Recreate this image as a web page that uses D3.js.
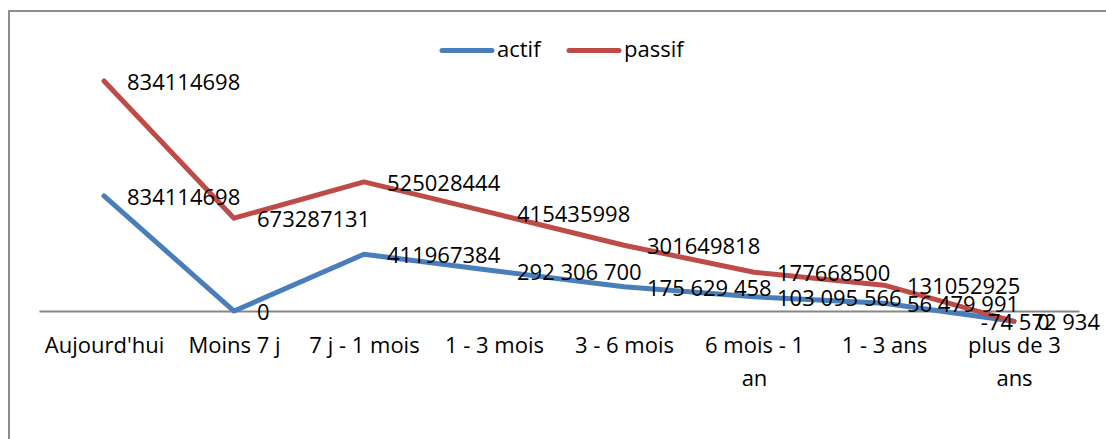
<!DOCTYPE html>
<html>
<head>
<meta charset="utf-8">
<script src="https://cdn.jsdelivr.net/npm/d3@7"></script>
<style>
  body { margin: 0; background: #fff; }
  svg { display: block; font-family: "Open Sans", "Noto Sans", sans-serif; }
</style>
</head>
<body>
<div id="chart"></div>
<script>
// categories and values (passif is drawn stacked on top of actif)
const categories = ["Aujourd'hui", "Moins 7 j", "7 j - 1 mois", "1 - 3 mois", "3 - 6 mois", "6 mois - 1 an", "1 - 3 ans", "plus de 3 ans"];
const actif = [834114698, 0, 411967384, 292306700, 175629458, 103095566, 56479991, -74572934];
const passif = [834114698, 673287131, 525028444, 415435998, 301649818, 177668500, 131052925, 0];
const actifLabels = ["834114698", "0", "411967384", "292 306 700", "175 629 458", "103 095 566", "56 479 991", "-74 572 934"];
const passifLabels = ["834114698", "673287131", "525028444", "415435998", "301649818", "177668500", "131052925", "0"];

const width = 1106, height = 439;
const blue = "#4A7EBB", red = "#BE4B48";

const svg = d3.select("#chart").append("svg")
    .attr("width", width)
    .attr("height", height);

// chart frame
svg.append("path")
    .attr("d", `M9,${height}V11H${width}`)
    .attr("fill", "none")
    .attr("stroke", "#8c8c8c")
    .attr("stroke-width", 2);

const x = d3.scalePoint()
    .domain(categories)
    .range([39, 1079])
    .padding(0.5);

const y = d3.scaleLinear()
    .domain([-200000000, 1800000000])
    .range([338.6, 62.8]);

const stacked = actif.map((v, i) => v + passif[i]);

// x axis
const xAxis = d3.axisBottom(x).tickSize(0).tickSizeOuter(0).tickPadding(0);
const gx = svg.append("g")
    .attr("transform", `translate(0,${y(0)})`)
    .call(xAxis)
    .attr("font-family", null)
    .attr("font-size", null);
gx.select(".domain").attr("stroke", "#868686").attr("stroke-width", 2);
gx.selectAll(".tick text").remove();

// category labels, wrapped like excel does
gx.selectAll(".tick").each(function(d) {
    const t = d3.select(this).append("text")
        .attr("fill", "#000")
        .attr("font-size", 22)
        .attr("text-anchor", "middle");
    const words = d.split(" ");
    let line = [];
    let n = 0;
    let tspan = t.append("tspan").attr("x", 0).attr("y", 42);
    words.forEach(w => {
        line.push(w);
        tspan.text(line.join(" "));
        if (tspan.node().getComputedTextLength() > 124 && line.length > 1) {
            line.pop();
            tspan.text(line.join(" "));
            line = [w];
            n++;
            tspan = t.append("tspan").attr("x", 0).attr("y", 42 + 33 * n).text(w);
        }
    });
});

const line = d3.line()
    .x((d, i) => x(categories[i]))
    .y(d => y(d));

svg.append("path")
    .datum(actif)
    .attr("d", line)
    .attr("fill", "none")
    .attr("stroke", blue)
    .attr("stroke-width", 5)
    .attr("stroke-linejoin", "round")
    .attr("stroke-linecap", "round");

svg.append("path")
    .datum(stacked)
    .attr("d", line)
    .attr("fill", "none")
    .attr("stroke", red)
    .attr("stroke-width", 5)
    .attr("stroke-linejoin", "round")
    .attr("stroke-linecap", "round");

// data labels, right of the point, kept inside the chart
function addLabels(vals, labels) {
    svg.append("g").selectAll("text")
        .data(vals)
        .join("text")
        .attr("font-size", 22)
        .attr("fill", "#000")
        .attr("y", d => y(d) + 9)
        .text((d, i) => labels[i])
        .attr("x", function(d, i) {
            const px = x(categories[i]) + 23;
            const w = this.getComputedTextLength();
            return Math.min(px, 1100 - w);
        });
}
addLabels(actif, actifLabels);
addLabels(stacked, passifLabels);

// legend
const legend = svg.append("g");
const items = [{name: "actif", color: blue, x: 440}, {name: "passif", color: red, x: 567}];
items.forEach(it => {
    legend.append("line")
        .attr("x1", it.x + 2).attr("x2", it.x + 52)
        .attr("y1", 50.5).attr("y2", 50.5)
        .attr("stroke", it.color)
        .attr("stroke-width", 5)
        .attr("stroke-linecap", "round");
    legend.append("text")
        .attr("x", it.x + 57)
        .attr("y", 57)
        .attr("font-size", 22)
        .attr("fill", "#000")
        .text(it.name);
});
</script>
</body>
</html>
